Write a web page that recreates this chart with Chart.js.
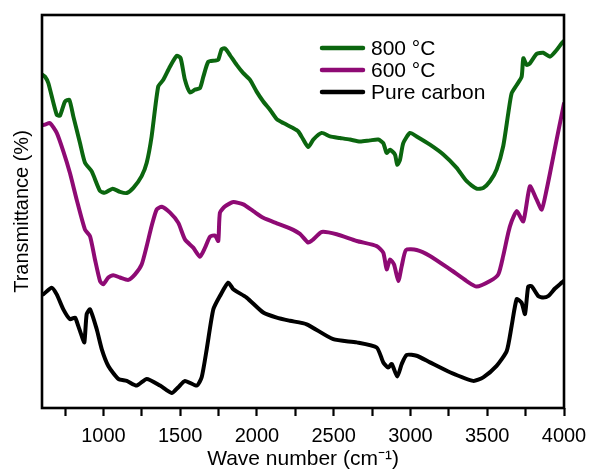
<!DOCTYPE html>
<html>
<head>
<meta charset="utf-8">
<script src="https://cdn.jsdelivr.net/npm/chart.js@4/dist/chart.umd.min.js"></script>
<style>
  html, body { margin: 0; padding: 0; background: #ffffff; }
  #wrap { width: 589px; height: 470px; position: relative; }
</style>
</head>
<body>
<div id="wrap"><canvas id="c" width="589" height="470"></canvas></div>
<script>
// ---- data ----
const seriesLabels = ["800 \u00B0C", "600 \u00B0C", "Pure carbon"];
const seriesColors = ["#0b660f", "#8e0a74", "#000000"];

const wn800 = [602,620,641,696,717,750,778,804,847,880,924,978,1010,1060,1108,1152,1195,1249,1282,1314,1357,1390,1434,1477,1503,1531,1564,1596,1629,1651,1683,1727,1748,1770,1792,1824,1868,1911,1955,1998,2041,2085,2129,2172,2237,2269,2302,2334,2367,2422,2476,2541,2606,2671,2736,2790,2823,2845,2867,2899,2914,2932,2953,2997,3040,3127,3214,3301,3366,3431,3474,3518,3561,3604,3637,3659,3692,3724,3735,3757,3778,3822,3865,3909,3952,3985,4000];
const t800 = [84.8,84.3,82.7,74.6,74.4,78.0,78.4,74.2,67.5,62.4,60.2,55.2,54.8,55.8,55.0,54.7,56.0,59.0,62.4,69.1,81.8,83.5,86.9,89.6,89.0,83.5,80.3,81.0,81.4,84.3,88.1,88.4,88.6,91.3,91.5,89.8,87.3,85.2,83.5,80.5,78.0,75.9,73.5,72.5,71.2,70.4,68.3,66.4,68.3,70.0,69.1,68.7,68.3,67.8,68.1,68.3,67.4,64.9,65.7,64.5,61.9,63.2,67.4,70.0,69.1,67.0,64.5,61.1,57.7,55.8,56.0,57.7,60.7,66.6,75.0,80.1,82.2,84.3,89.0,87.3,87.7,90.1,90.4,89.4,91.1,92.8,93.4];

const wn600 = [602,620,652,696,739,782,826,880,913,945,978,999,1032,1064,1108,1162,1206,1249,1282,1314,1347,1380,1434,1488,1531,1585,1629,1662,1694,1727,1748,1759,1792,1846,1911,1976,2041,2129,2215,2280,2334,2367,2422,2519,2650,2780,2823,2845,2867,2893,2921,2943,2971,3040,3127,3257,3366,3431,3518,3572,3604,3637,3659,3692,3735,3778,3822,3855,3887,3909,3952,3985,4000];
const t600 = [72.0,72.1,72.5,70.0,65.3,59.8,53.0,45.4,43.7,37.8,32.3,31.5,33.2,33.8,33.2,32.6,34.0,36.5,41.2,46.3,50.5,51.2,49.7,47.1,42.9,40.8,38.5,40.8,43.6,43.9,42.5,49.7,51.3,52.4,51.8,50.1,48.4,47.0,45.7,44.3,42.1,42.9,44.8,44.2,42.5,41.2,39.5,35.3,37.8,36.5,32.3,36.1,40.2,40.2,38.7,35.3,32.3,30.9,32.3,34.0,38.7,44.6,47.5,50.1,47.5,56.4,53.0,50.5,55.6,59.8,68.3,74.6,77.5];

const wnPure = [602,608,663,696,739,782,815,836,859,876,891,913,956,989,1032,1097,1152,1217,1282,1369,1445,1488,1531,1608,1640,1673,1716,1759,1813,1846,1933,2041,2129,2215,2324,2497,2650,2780,2823,2855,2878,2914,2943,2975,3040,3127,3257,3409,3474,3561,3627,3659,3692,3724,3746,3767,3789,3832,3865,3898,3941,3985,4000];
const tPure = [28.9,28.9,30.6,28.9,25.1,22.6,23.0,20.9,18.3,16.7,23.9,25.1,20.1,15.0,10.7,7.4,6.9,5.7,7.4,5.7,3.8,5.3,6.9,5.7,7.8,15.0,25.1,28.5,31.9,30.2,28.1,24.3,23.0,22.2,21.3,17.5,16.7,15.4,11.6,10.3,11.2,8.0,11.2,13.5,13.3,11.6,9.1,6.9,7.8,10.7,14.5,20.9,27.7,26.8,23.9,30.9,31.0,28.5,28.1,28.5,30.4,31.9,32.4];

const xTickValues = [750,1000,1250,1500,1750,2000,2250,2500,2750,3000,3250,3500,3750,4000];
const xLabelStep = 500;

// ---- build chart ----
function pts(xs, ys) { return xs.map((x, i) => ({ x: x, y: ys[i] })); }
const allX = [wn800, wn600, wnPure];
const allY = [t800, t600, tPure];

const datasets = seriesLabels.map((lab, i) => ({
  label: lab,
  data: pts(allX[i], allY[i]),
  borderColor: seriesColors[i],
  backgroundColor: seriesColors[i],
  borderWidth: 4,
  pointRadius: 0,
  tension: 0.2,
  borderJoinStyle: 'round',
  borderCapStyle: 'round',
  fill: false
}));

const framePlugin = {
  id: 'frame',
  afterDatasetsDraw(chart) {
    const a = chart.chartArea, ctx = chart.ctx;
    ctx.save();
    ctx.strokeStyle = '#000';
    ctx.lineWidth = 2.6;
    ctx.strokeRect(a.left, a.top, a.right - a.left, a.bottom - a.top);
    ctx.restore();
  }
};

const legendPlugin = {
  id: 'insideLegend',
  afterDraw(chart) {
    const ctx = chart.ctx;
    const x0 = 322, x1 = 363, tx = 371;
    const ys = [48, 70, 92];
    ctx.save();
    ctx.font = '21px "Liberation Sans", Arial, sans-serif';
    ctx.textBaseline = 'middle';
    ctx.textAlign = 'left';
    chart.data.datasets.forEach((ds, i) => {
      ctx.strokeStyle = ds.borderColor;
      ctx.lineWidth = 4.5;
      ctx.lineCap = 'round';
      ctx.beginPath();
      ctx.moveTo(x0, ys[i]);
      ctx.lineTo(x1, ys[i]);
      ctx.stroke();
      ctx.fillStyle = '#000';
      ctx.fillText(ds.label, tx, ys[i] + 1);
    });
    ctx.restore();
  }
};

new Chart(document.getElementById('c'), {
  type: 'line',
  data: { datasets: datasets },
  plugins: [framePlugin, legendPlugin],
  options: {
    responsive: false,
    animation: false,
    layout: { padding: { left: 4, top: 15, right: 25, bottom: 0 } },
    plugins: { legend: { display: false }, tooltip: { enabled: false } },
    scales: {
      x: {
        type: 'linear',
        min: 600,
        max: 4000,
        afterBuildTicks(scale) { scale.ticks = xTickValues.map(v => ({ value: v })); },
        afterFit(scale) { scale.paddingRight = 0; scale.paddingLeft = 0; },
        ticks: {
          autoSkip: false,
          maxRotation: 0,
          padding: 8,
          color: '#000',
          font: { family: '"Liberation Sans", Arial, sans-serif', size: 20 },
          callback: (v) => (v % xLabelStep === 0 ? String(v) : '')
        },
        grid: {
          display: true,
          drawOnChartArea: false,
          drawTicks: true,
          tickLength: 8,
          tickWidth: 2.2,
          tickColor: '#000'
        },
        border: { display: false },
        title: {
          display: true,
          text: 'Wave number (cm\u207B\u00B9)',
          color: '#000',
          font: { family: '"Liberation Sans", Arial, sans-serif', size: 21, lineHeight: 1 },
          padding: { top: -7, bottom: 0 }
        }
      },
      y: {
        min: 0,
        max: 100,
        ticks: { display: false },
        grid: { display: false, drawTicks: false },
        border: { display: false },
        title: {
          display: true,
          text: 'Transmittance (%)',
          color: '#000',
          font: { family: '"Liberation Sans", Arial, sans-serif', size: 20, lineHeight: 1.2 },
          padding: { top: 6, bottom: 8 }
        }
      }
    }
  }
});
</script>
</body>
</html>
